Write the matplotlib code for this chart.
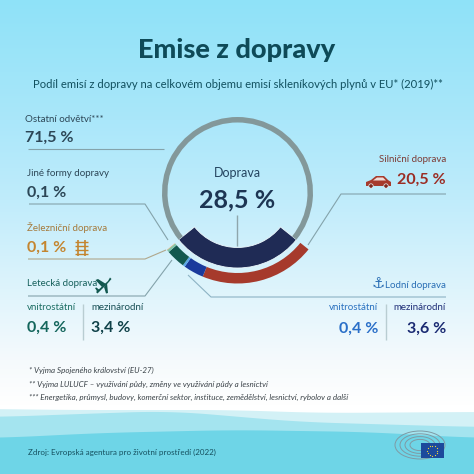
import numpy as np
import matplotlib.pyplot as plt
from matplotlib.patches import Rectangle, Polygon, Circle, Arc

plt.rcParams['font.family'] = ['Lato', 'DejaVu Sans']

# podily v %
transport_total = 28.5
other_sectors = 71.5
ring_values = [transport_total, other_sectors]
# od silnicni dopravy po smeru hodinovych rucicek
band_names = ['Silniční', 'Lodní mezinárodní', 'Lodní vnitrostátní', 'Letecká mezinárodní',
              'Letecká vnitrostátní', 'Železniční', 'Jiné']
band_values = [20.5, 3.6, 0.4, 3.4, 0.4, 0.1, 0.1]
band_colors = ['#a63a2c', '#1a3a9c', '#5aa6e6', '#12584f', '#7fc4a8', '#c89a55', '#e4e8e4']

H = 474
CX, CY = 237.5, H - 192.5


def yy(y):
    # souradnice odecitane shora
    return H - y


fig = plt.figure(figsize=(4.74, 4.74), dpi=100)
ax = fig.add_axes([0, 0, 1, 1])

# kruh
start = -90 - ring_values[0] / 100 * 360 / 2
wedges, _ = ax.pie(ring_values, colors=['#1f2b55', '#83989a'], radius=75.5, center=(CX, CY),
                   startangle=start, frame=True,
                   wedgeprops=dict(width=20.5, edgecolor='none'))
wedges[1].set_width(5.5)
wedges[0].set_zorder(3)
wedges[1].set_zorder(3)
wedges[0].set_edgecolor('#eef9fd')
wedges[0].set_linewidth(0.6)

outer, _ = ax.pie(band_values + [other_sectors], colors=band_colors + ['none'], radius=91, center=(CX, CY),
                  startangle=start + ring_values[0] / 100 * 360, counterclock=False, frame=True,
                  wedgeprops=dict(width=10.5, edgecolor='none'))
for w in outer:
    w.set_zorder(3)

ax.axis('off')

# pozadi
grad_y = [0, 120, 200, 300, 360, 405, 474]
grad_r = [143, 170, 192, 226, 245, 255, 255]
grad_g = [226, 231, 236, 245, 250, 255, 255]
grad_b = [248, 250, 251, 252, 252, 255, 255]
ys = np.arange(474)
grad = np.stack([np.interp(ys, grad_y, c) for c in (grad_r, grad_g, grad_b)], axis=1)[:, None, :] / 255
ax.imshow(grad, extent=(0, 474, 0, 474), origin='upper', aspect='auto', zorder=0)
ax.set_xlim(0, 474)
ax.set_ylim(0, 474)


def wave(xp, yp, color, z):
    x = np.arange(-30, 505)
    y = np.interp(x, xp, yp)
    y = np.convolve(np.pad(y, 40, mode='edge'), np.ones(81) / 81, mode='valid')
    ax.fill_between(x, 0, yy(y), color=color, lw=0, zorder=z)


wave([0, 60, 230, 320, 474], [409, 410, 410, 413, 412], '#d3f1f6', 1)
wave([0, 80, 170, 300, 474], [417, 414, 411, 422, 427], '#a4e4ef', 1.1)
wave([0, 100, 233, 367, 474], [438, 433, 430, 432, 438], '#6ed5e7', 1.2)


def txt(x, y, s, size, color, ha='left', weight='normal', style='normal', **kw):
    return ax.text(x, yy(y), s, fontsize=size, color=color, ha=ha, va='center',
                   fontweight=weight, fontstyle=style, zorder=5, **kw)


def leader(xs, ys, color='#84a3ab', lw=0.8):
    ax.plot(xs, [yy(v) for v in ys], color=color, lw=lw, zorder=2, solid_capstyle='butt')


def shape(points, color, z=5):
    ax.add_patch(Polygon([(a, yy(b)) for a, b in points], color=color, lw=0, zorder=z))


DARK = '#2c4656'
LABEL = 7
VALUE = 11.5
txt(237, 50, 'Emise z dopravy', 19.5, '#0e4a58', ha='center', weight=900)
txt(238, 84, 'Podíl emisí z dopravy na celkovém objemu emisí skleníkových plynů v EU* (2019)**',
    8.15, '#11505f', ha='center')

# stred
txt(237.5, 173, 'Doprava', 9, '#24445f', ha='center')
txt(237.5, 200, '28,5 %', 18, '#1d3553', ha='center', weight='bold')
leader([237, 237], [215, 246], '#8fa6ac', 1.0)

# vlevo
txt(25, 119, 'Ostatní odvětví***', LABEL, DARK)
txt(25, 138, '71,5 %', VALUE, DARK, weight='bold')
leader([28, 164], [149, 149])

txt(27, 173, 'Jiné formy dopravy', LABEL, DARK)
txt(27, 193, '0,1 %', VALUE, DARK, weight='bold')
leader([29, 145, 168], [204, 204, 240])

txt(27, 227, 'Železniční doprava', LABEL, '#a57a3c')
txt(27, 248, '0,1 %', VALUE, '#c4852f', weight='bold')
leader([28, 145, 166], [259, 259, 250], '#b0a78c')

txt(27, 284, 'Letecká doprava', LABEL, '#17615c')
leader([28, 145, 172], [296, 296, 260])

# letadlo
shape([(96, 292), (108, 281), (110, 277.5), (111.5, 279), (108, 283), (97.5, 293.5)], '#12584f')
shape([(95.5, 280), (98, 279), (106, 284), (102, 287)], '#12584f')
shape([(104, 287), (107, 283), (108, 293), (106, 293.5)], '#12584f')
shape([(95, 288), (96.5, 287.5), (99.5, 290), (97.5, 292)], '#12584f')

txt(27, 308, 'vnitrostátní', LABEL, '#1c6e64')
txt(91, 308, 'mezinárodní', LABEL, '#174f55')
txt(27, 328, '0,4 %', VALUE, '#14665c', weight='bold')
txt(91, 328, '3,4 %', VALUE, '#0f4148', weight='bold')
leader([83, 83], [304, 340], '#b9cdd2', 1.0)

# kolej
for xr in (78, 85):
    leader([xr, xr], [240, 256], '#c4852f', 1.2)
for yr in (242, 246, 250, 254):
    leader([75, 88], [yr, yr], '#c4852f', 1.0)

# vpravo
txt(446, 159, 'Silniční doprava', LABEL, '#7d3b35', ha='right')
txt(446, 180, '20,5 %', VALUE, '#9b2d24', ha='right', weight='bold')
leader([446, 341, 308], [194, 194, 245])

# auto
shape([(366, 186), (366, 182), (371, 180), (376, 176), (384, 176), (388, 180), (391, 182), (391, 186)], '#a63a2c')
for xc in (371, 386):
    ax.add_patch(Circle((xc, yy(186)), 2.2, fc='#7d2a20', ec='#eaf7fc', lw=0.5, zorder=6))
shape([(373, 180.5), (377, 177.5), (383, 177.5), (386, 180.5)], '#f0dcd8', 6)

txt(378, 284, '⚓', 10.5, '#2a6fb5', ha='center', family='DejaVu Sans')
txt(446, 285, 'Lodní doprava', LABEL, '#2a6fb5', ha='right')
leader([446, 211, 188], [297, 297, 275], '#8db3c4')

txt(378, 308, 'vnitrostátní', LABEL, '#2a72c0', ha='right')
txt(446, 308, 'mezinárodní', LABEL, '#1f2f78', ha='right')
txt(378, 329, '0,4 %', VALUE, '#2a6fc8', ha='right', weight='bold')
txt(446, 329, '3,6 %', VALUE, '#1a2a72', ha='right', weight='bold')
leader([386, 386], [304, 340], '#b9cdd2', 1.0)

# poznamky
NOTE = '#3a4248'
txt(29, 370, '* Vyjma Spojeného království (EU-27)', 5.75, NOTE, style='italic')
txt(29, 384, '** Vyjma LULUCF – využívání půdy, změny ve využívání půdy a lesnictví', 5.75, NOTE, style='italic')
txt(29, 397, '*** Energetika, průmysl, budovy, komerční sektor, instituce, zemědělství, lesnictví, rybolov a další',
    5.75, NOTE, style='italic')
txt(28, 452, 'Zdroj: Evropská agentura pro životní prostředí (2022)', 5.8, '#15505f')

# logo parlamentu
for k in (0.4, 0.6, 0.8, 1.0):
    ax.add_patch(Arc((420, yy(445)), 50 * k, 28 * k, theta1=0, theta2=360, color='#7f9aa4', lw=0.7, zorder=4))
ax.add_patch(Rectangle((421, yy(458)), 23, 15, color='#1c4a9c', lw=0, zorder=5))
stars = np.deg2rad(np.arange(0, 360, 30))
ax.scatter(432.5 + 5 * np.cos(stars), yy(450.5) + 5 * np.sin(stars), s=0.8, color='#f4d53a', lw=0, zorder=6)

fig.savefig('out.png', dpi=100)
